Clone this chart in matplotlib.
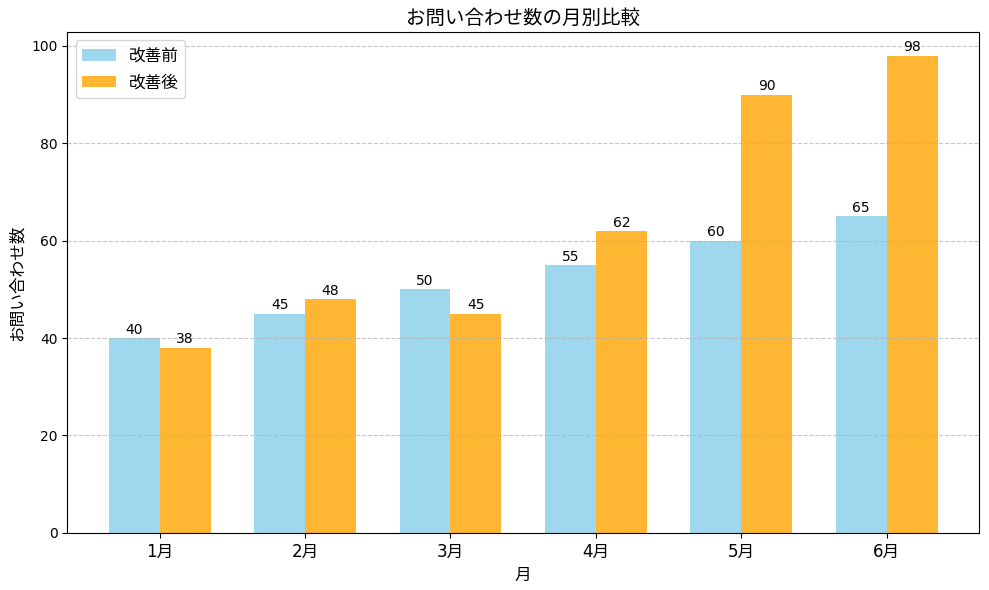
import numpy as np
import matplotlib
matplotlib.use("Agg")
import matplotlib.pyplot as plt

plt.rcParams["font.family"] = ["DejaVu Sans", "Noto Sans CJK JP"]

# Data
months = ["1月", "2月", "3月", "4月", "5月", "6月"]
before = [40, 45, 50, 55, 60, 65]
after = [38, 48, 45, 62, 90, 98]

x = np.arange(len(months))
width = 0.35

fig, ax = plt.subplots(figsize=(9.89, 5.90), dpi=100)
fig.subplots_adjust(left=0.068, right=0.990, top=0.946, bottom=0.097)

bars1 = ax.bar(x - width / 2, before, width, label="改善前", color="skyblue", alpha=0.8)
bars2 = ax.bar(x + width / 2, after, width, label="改善後", color="orange", alpha=0.8)

# Value labels on top of bars
for bars in (bars1, bars2):
    for b in bars:
        h = b.get_height()
        ax.annotate(
            f"{h}",
            xy=(b.get_x() + b.get_width() / 2, h),
            xytext=(0, 1),
            textcoords="offset points",
            ha="center",
            va="bottom",
            fontsize=10,
        )

ax.set_title("お問い合わせ数の月別比較", fontsize=14)
ax.set_xlabel("月", fontsize=12)
ax.set_ylabel("お問い合わせ数", fontsize=12)
ax.set_xticks(x)
ax.set_xticklabels(months, fontsize=12)
ax.legend(fontsize=12, loc="upper left")
ax.grid(axis="y", linestyle="--", alpha=0.7)

plt.savefig("out.png", dpi=100)
